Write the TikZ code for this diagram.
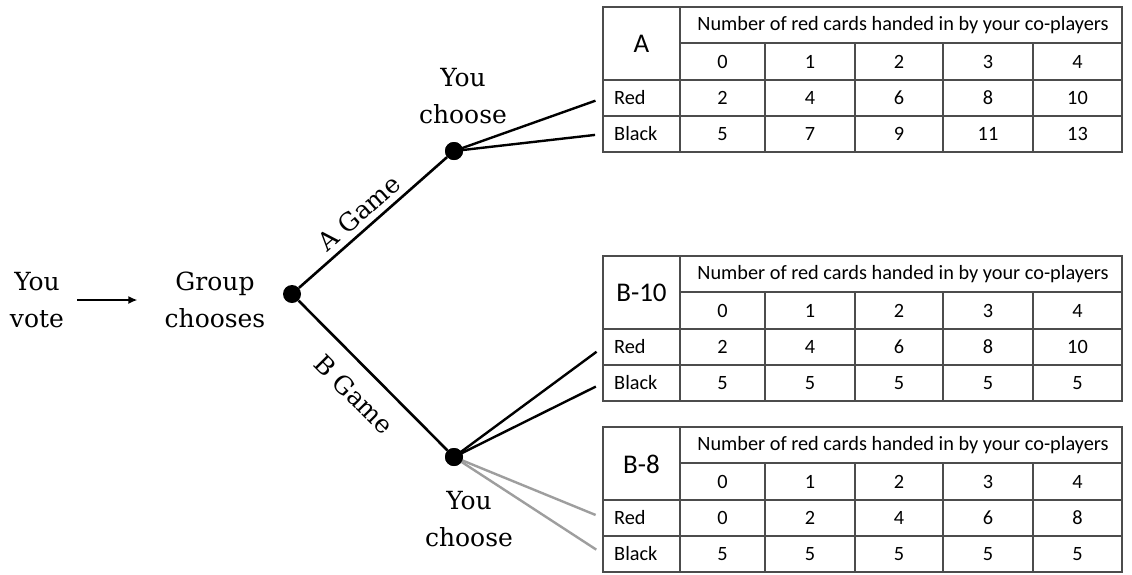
\documentclass[tikz,border=0pt]{standalone}
\usepackage{fontspec}
\setmainfont{DejaVu Serif}
\newfontfamily\tabfont{Carlito}
\usetikzlibrary{arrows.meta}

\tikzset{
  treeline/.style={line width=2.6pt, draw=black},
  optline/.style={line width=2.4pt, draw=black, shorten >=8pt},
  greyline/.style={optline, draw=black!38},
  dot/.style={circle, fill=black, inner sep=0pt, minimum size=18pt},
  treelabel/.style={font=\fontsize{25}{37}\selectfont, align=center, inner sep=3pt},
  gridline/.style={draw=black!70, line width=1.2pt},
  tabtext/.style={font=\tabfont\fontsize{20.3}{22}\selectfont, inner sep=0pt},
  tabtitle/.style={font=\tabfont\fontsize{27}{30}\selectfont, inner sep=0pt},
  rowcell/.style={font=\tabfont\fontsize{20.3}{22}\selectfont, anchor=west,
                  inner xsep=11pt, inner ysep=0pt, minimum height=36pt},
}

% #1 name, #2 title, #3 top edge, #4 red payoffs, #5 black payoffs
\newcommand\paytable[5]{%
  \begin{scope}[shift={(0,#3)}]
    \draw[gridline] (603,0) rectangle (1122,145);
    \draw[gridline] (680,36) -- (1122,36);
    \draw[gridline] (603,73) -- (1122,73);
    \draw[gridline] (603,109) -- (1122,109);
    \draw[gridline] (680,0) -- (680,145);
    \foreach \xl in {765,855,943,1033} \draw[gridline] (\xl,36) -- (\xl,145);
    \node[tabtitle] (#1-title) at (641.5,37) {#2};
    \node[tabtext] (#1-head) at (903,18) {Number of red cards handed in by your co-players};
    \foreach \cx [count=\i from 0] in {722.5,810,899,988,1077.5}
      \node[tabtext] (#1-n\i) at (\cx,54.5) {\i};
    \node[rowcell] (#1-red) at (603,91) {Red};
    \node[rowcell] (#1-black) at (603,127) {Black};
    \foreach \v [count=\i] in {#4} {
      \pgfmathsetmacro\cx{{722.5,810,899,988,1077.5}[\i-1]}
      \node[tabtext] (#1-r\i) at (\cx,91) {\v};
    }
    \foreach \v [count=\i] in {#5} {
      \pgfmathsetmacro\cx{{722.5,810,899,988,1077.5}[\i-1]}
      \node[tabtext] (#1-b\i) at (\cx,127) {\v};
    }
  \end{scope}
}

\begin{document}
\begin{tikzpicture}[x=1pt, y=-1pt]
  \useasboundingbox[fill=white] (0,0) rectangle (1132,574);

  % payoff tables
  \paytable{A}{A}{7}{2,4,6,8,10}{5,7,9,11,13}
  \paytable{B10}{B-10}{256}{2,4,6,8,10}{5,5,5,5,5}
  \paytable{B8}{B-8}{427}{0,2,4,6,8}{5,5,5,5,5}

  % decision tree
  \node[treelabel] (vote) at (37,300) {You\\vote};
  \node[treelabel] (group) at (215,300) {Group\\chooses};
  \draw[line width=2.4pt, -{Latex[length=9pt,width=8pt]}, shorten <=10pt, shorten >=24pt]
    (vote) -- (group);

  \node[dot] (root) at (292,294) {};
  \node[dot] (upA) at (454,151) {};
  \node[dot] (upB) at (454,457) {};

  \draw[treeline] (root) -- (upA)
    node[pos=0.48, sloped, above=3pt, treelabel] (agame) {A Game};
  \draw[treeline] (root) -- (upB)
    node[pos=0.5, sloped, below=13pt, treelabel] (bgame) {B Game};

  \node[treelabel] (chooseA) at (463,96) {You\\choose};
  \node[treelabel] (chooseB) at (469,519) {You\\choose};

  \draw[optline] (upA.center) -- (A-red.west);
  \draw[optline] (upA.center) -- (A-black.west);
  \draw[optline] (upB.center) -- (B10-red.west);
  \draw[optline] (upB.center) -- (B10-black.west);
  \draw[greyline] (upB.center) -- (B8-red.west);
  \draw[greyline] (upB.center) -- (B8-black.west);
  \node[dot] at (upB) {};
  \node[dot] at (upA) {};
\end{tikzpicture}
\end{document}
